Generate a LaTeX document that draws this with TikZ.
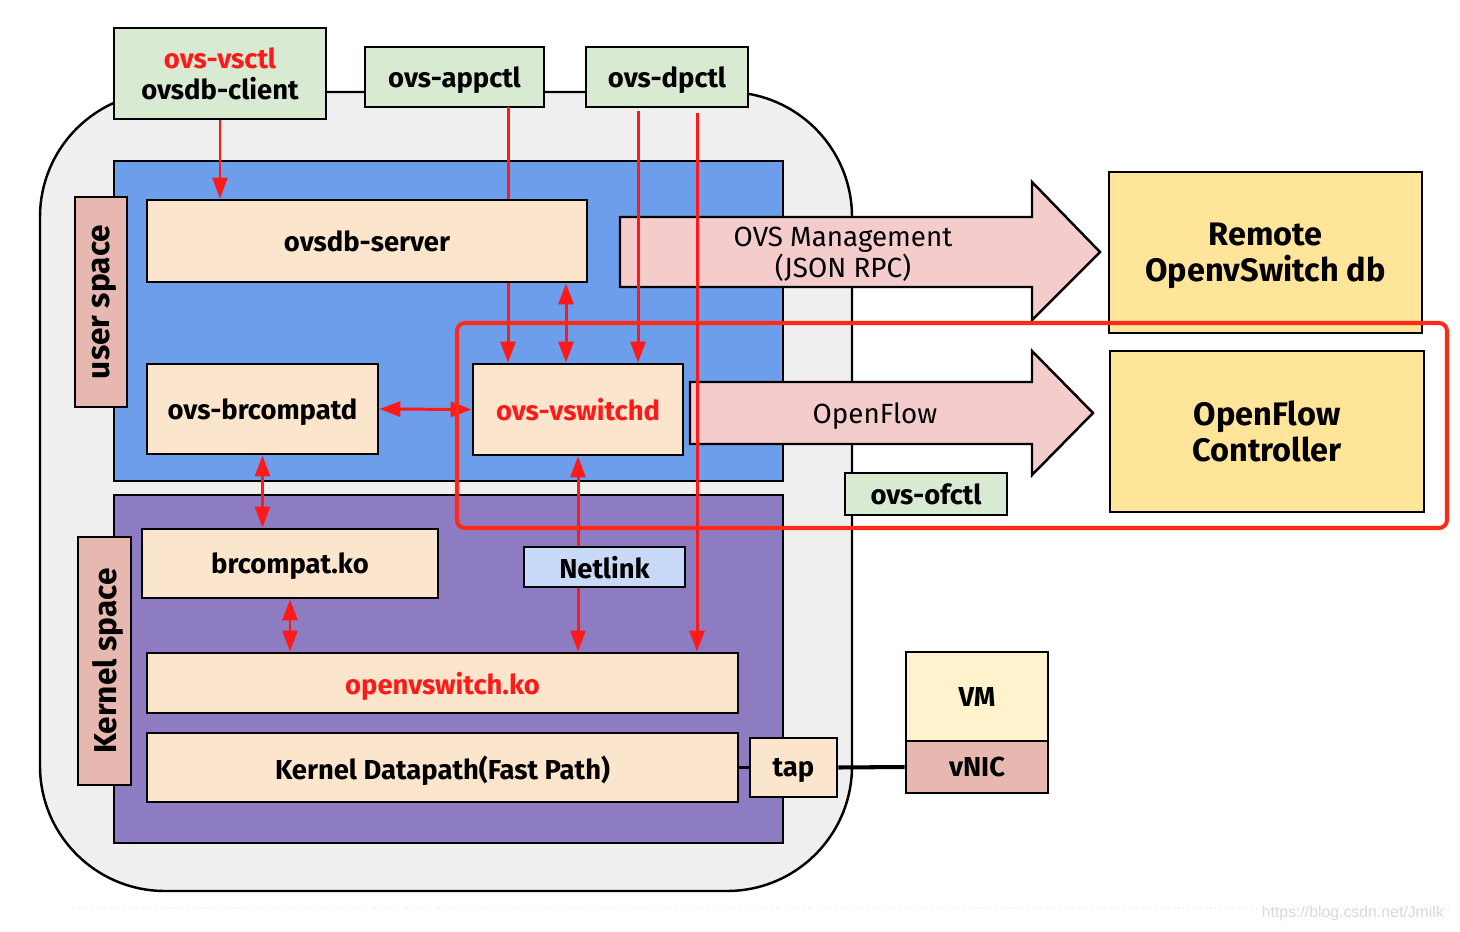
\documentclass[tikz,border=0pt]{standalone}
\usepackage{fontspec}
\setmainfont{Fira Sans}
\newfontfamily\wmfont{Liberation Sans}
\usetikzlibrary{arrows.meta}

\definecolor{shellgray}{HTML}{EFEFEF}
\definecolor{userblue}{HTML}{6D9EEB}
\definecolor{kernpurple}{HTML}{8E7CC3}
\definecolor{peach}{HTML}{FCE5CD}
\definecolor{toolgreen}{HTML}{D9EAD3}
\definecolor{rosy}{HTML}{E6B8AF}
\definecolor{remoteyellow}{HTML}{FFE599}
\definecolor{vmyellow}{HTML}{FFF2CC}
\definecolor{linkblue}{HTML}{C9DAF8}
\definecolor{flowpink}{HTML}{F4CCCC}
\definecolor{ovsred}{HTML}{FF1A1A}
\definecolor{hired}{HTML}{FF2A1A}

\newcommand\boxfont{\fontsize{15.6}{17.8}\selectfont\bfseries}
\newcommand\bigfont{\fontsize{18.5}{20.6}\selectfont\bfseries}
\newcommand\flowfont{\fontsize{15.8}{17.8}\selectfont}
\newcommand\sidefont{\fontsize{18}{20}\selectfont\bfseries}

\tikzset{
    box/.style={draw=black, line width=1.6pt, fill=peach, inner sep=0pt, align=center, font=\boxfont, text depth=0pt},
    tool/.style={box, fill=toolgreen},
    far/.style={box, fill=remoteyellow, font=\bigfont},
    spacelabel/.style={box, fill=rosy, rotate=90, font=\sidefont},
    region/.style={draw=black, line width=1.6pt},
    bigarrow/.style={draw=black, line width=1.4pt, fill=flowpink, line join=miter},
    redline/.style={draw=ovsred, line width=1.7pt},
    redarrow/.style={redline, -{Triangle[length=0.42cm,width=0.3cm]}},
    redboth/.style={redline, {Triangle[length=0.42cm,width=0.3cm]}-{Triangle[length=0.42cm,width=0.3cm]}}
}

\begin{document}
\begin{tikzpicture}[x=0.02cm, y=-0.02cm]
    \useasboundingbox (0,0) rectangle (1460,932);

    % host shell and the two spaces
    \draw[region, line width=1.4pt, fill=shellgray, rounded corners=2.5cm] (40,92) rectangle (852,891);
    \draw[region, fill=userblue] (114,161) rectangle (783,481);
    \draw[region, fill=kernpurple] (114,495) rectangle (783,843);
    \node[spacelabel, minimum width=4.2cm, minimum height=1.04cm] (userlbl) at (101,302) {user space};
    \node[spacelabel, minimum width=4.96cm, minimum height=1.06cm] (kernlbl) at (104.5,661) {Kernel space};

    % tools on top
    \node[tool, minimum width=4.24cm, minimum height=1.82cm] (client) at (220,73.5) {\textcolor{ovsred}{ovs-vsctl}\\ovsdb-client};
    \node[tool, minimum width=3.58cm, minimum height=1.2cm] (appctl) at (454.5,77) {ovs-appctl};
    \node[tool, minimum width=3.24cm, minimum height=1.2cm] (dpctl) at (667,77) {ovs-dpctl};

    % user space
    \node[box, minimum width=8.8cm, minimum height=1.64cm] (server) at (367,241) {ovsdb-server};
    \node[box, minimum width=4.62cm, minimum height=1.8cm] (brcompatd) at (262.5,409) {ovs-brcompatd};
    \node[box, minimum width=4.2cm, minimum height=1.82cm, text=ovsred] (vswitchd) at (578,409.5) {ovs-vswitchd};

    % kernel space
    \node[box, minimum width=5.92cm, minimum height=1.38cm] (brcompatko) at (290,563.5) {brcompat.ko};
    \node[box, fill=linkblue, minimum width=3.22cm, minimum height=0.8cm] (netlink) at (604.5,567) {Netlink};
    \node[box, minimum width=11.82cm, minimum height=1.2cm, text=ovsred] (ovsko) at (442.5,683) {openvswitch.ko};
    \node[box, minimum width=11.82cm, minimum height=1.38cm] (datapath) at (442.5,767.5) {Kernel Datapath(Fast Path)};
    \node[box, minimum width=1.74cm, minimum height=1.18cm] (tap) at (793.5,767.5) {tap};

    % guest
    \node[box, fill=vmyellow, minimum width=2.84cm, minimum height=1.78cm] (vm) at (977,696.5) {VM};
    \node[box, fill=rosy, minimum width=2.84cm, minimum height=1.04cm] (vnic) at (977,767) {vNIC};

    % management and openflow channels
    \draw[bigarrow] (620,217) -- (1032,217) -- (1032,182) -- (1100,252) -- (1032,320) -- (1032,287) -- (620,287) -- cycle;
    \node[font=\flowfont, align=center, text depth=0pt] (mgmt) at (843,252) {OVS Management\\(JSON RPC)};
    \draw[bigarrow] (690,382) -- (1032,382) -- (1032,351) -- (1093,413) -- (1032,475) -- (1032,444) -- (690,444) -- cycle;
    \node[font=\flowfont, text depth=0pt] (openflow) at (875,413) {OpenFlow};
    \node[far, minimum width=6.26cm, minimum height=3.22cm] (remote) at (1265.5,252.5) {Remote\\OpenvSwitch db};
    \node[far, minimum width=6.28cm, minimum height=3.22cm] (ofctrl) at (1267,431.5) {OpenFlow\\Controller};
    \node[tool, minimum width=3.24cm, minimum height=0.84cm] (ofctl) at (926,494) {ovs-ofctl};

    % red connectors
    \coordinate (appctl-out) at (508,107);
    \coordinate (dpctl-a) at (638,111);
    \coordinate (dpctl-b) at (697,113);
    \coordinate (db-link) at (566,0);
    \draw[redarrow] (client.south) -- (client.south |- server.north);
    \draw[redline] (appctl-out) -- (appctl-out |- server.north);
    \draw[redarrow] (appctl-out |- server.south) -- (appctl-out |- vswitchd.north);
    \draw[redarrow] (dpctl-a) -- (dpctl-a |- vswitchd.north);
    \draw[redarrow] (dpctl-b) -- (dpctl-b |- ovsko.north);
    \draw[redboth] (db-link |- server.south) -- (db-link |- vswitchd.north);
    \draw[redboth] (brcompatd.east) -- (vswitchd.west);
    \draw[redboth] (brcompatd.south) -- (brcompatd.south |- brcompatko.north);
    \draw[redboth] (brcompatko.south) -- (brcompatko.south |- ovsko.north);
    \draw[redarrow] (netlink.north -| vswitchd.south) -- (vswitchd.south);
    \draw[redarrow] (netlink.south -| vswitchd.south) -- (vswitchd.south |- ovsko.north);

    % port wiring
    \draw[line width=1.6pt] (datapath.east) -- (tap.west);
    \draw[line width=2.3pt] (tap.east) -- (vnic.west);

    % highlight
    \draw[draw=hired, line width=2.3pt, rounded corners=0.16cm] (457,323) rectangle (1447,528);

    % watermark
    \draw[gray!12, dotted, line width=0.6pt] (73,908) -- (1450,908);
    \node[font=\wmfont\fontsize{9}{10}\selectfont, text=gray!30, anchor=east] (mark) at (1450,913) {https://blog.csdn.net/Jmilk};
\end{tikzpicture}
\end{document}
